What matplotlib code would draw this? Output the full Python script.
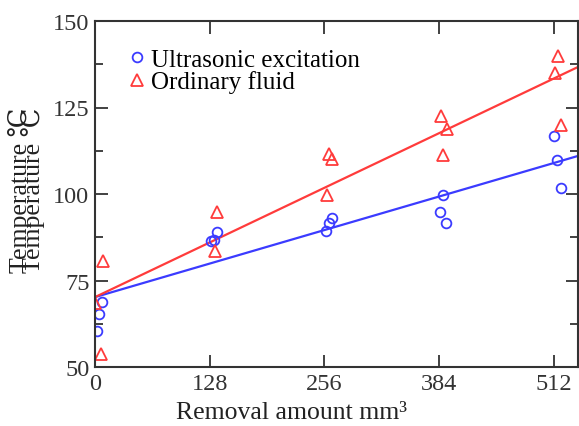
import numpy as np
import matplotlib
matplotlib.use("Agg")
import matplotlib.pyplot as plt
from matplotlib.ticker import MultipleLocator

plt.rcParams['font.family'] = ['Liberation Serif', 'DejaVu Serif']

# removal amount (mm^3) and temperature (C)
ultra_x = [2, 4.5, 8, 129, 133, 136, 258, 261, 264, 385, 388, 392, 512, 516, 520]
ultra_y = [60.4, 65.3, 68.8, 86.4, 86.6, 89.0, 89.3, 91.6, 93.0, 94.8, 99.6, 91.6, 116.8, 109.8, 101.8]
fluid_x = [0, 6.5, 9, 134, 136, 259, 261, 265, 386, 388, 393, 513, 517, 520]
fluid_y = [68.5, 53.8, 80.6, 83.5, 94.8, 99.6, 111.7, 110.0, 122.5, 111.3, 118.8, 135.0, 139.9, 120.0]

# fitted lines: intercept, slope
ultra_fit = (70.2, 0.0757)
fluid_fit = (70.2, 0.1234)

x_ticks = [0, 128, 256, 384, 512]
y_ticks = [50, 75, 100, 125, 150]

blue = '#3b3bff'
red = '#ff3b3b'
dark = '#333333'

fig = plt.figure(figsize=(5.79, 4.27), dpi=100)
ax = fig.add_axes([95 / 579, 59 / 427, 483 / 579, 346 / 427])

xx = np.array([0, 540])
ax.plot(xx, ultra_fit[0] + ultra_fit[1] * xx, color=blue, lw=1.6)
ax.plot(xx, fluid_fit[0] + fluid_fit[1] * xx, color=red, lw=1.6)
ax.plot(ultra_x, ultra_y, 'o', ms=7, mfc='none', mec=blue, mew=1.3,
        label='Ultrasonic excitation')
ax.plot(fluid_x, fluid_y, '^', ms=8, mfc='none', mec=red, mew=1.3,
        label='Ordinary fluid')

ax.set_xlim(0, 539)
ax.set_ylim(50, 150)
ax.set_xticks(x_ticks)
ax.set_yticks(y_ticks)
ax.yaxis.set_minor_locator(MultipleLocator(12.5))
ax.tick_params(which='both', direction='in', top=True, right=True,
               colors=dark, labelcolor=dark, labelsize=17.5, width=1.3)
ax.tick_params(which='major', length=9, pad=4)
ax.tick_params(which='minor', length=6)
for s in ax.spines.values():
    s.set_color(dark)
    s.set_linewidth(1.5)

leg = ax.legend(loc='upper left', bbox_to_anchor=(0.053, 0.95), frameon=False,
                fontsize=18, handlelength=0.5, handletextpad=0.3,
                labelspacing=-0.02, borderaxespad=0)

fig.text(292 / 579, 14 / 427, 'Removal amount mm³', ha='center', va='center',
         fontsize=18.5, color='#222222')
for lx in (20, 33):
    fig.text(lx / 579, 1 - 190 / 427, 'Temperature ℃', rotation=90,
             ha='center', va='center', fontsize=18.5, color='#222222')

fig.savefig('out.png', dpi=100)
